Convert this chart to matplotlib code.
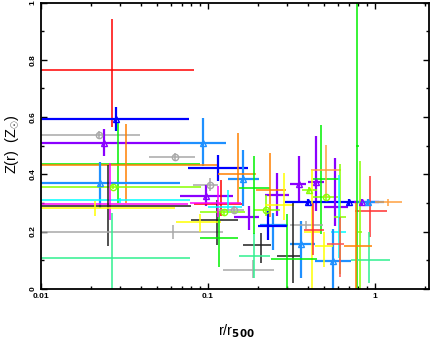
import matplotlib
matplotlib.use('Agg')
import matplotlib.pyplot as plt
import matplotlib.ticker as ticker

plt.rcParams['font.family'] = ['Liberation Sans', 'DejaVu Sans']
plt.rcParams['mathtext.fontset'] = 'custom'
plt.rcParams['mathtext.rm'] = 'Liberation Sans'
plt.rcParams['mathtext.it'] = 'Liberation Sans'

# radius (r/r500): centre, lower, upper
r_mid = [0.0269, 0.0281, 0.0222, 0.0239, 0.0641, 0.0937, 0.0291, 0.0324, 0.115, 0.163,
         0.103, 0.0228, 0.0272, 0.152, 0.0983, 0.030, 0.0260, 0.0254, 0.0211, 0.0621,
         0.0269, 0.121, 0.114, 0.0904, 0.117, 0.126, 0.187, 0.210, 0.190, 0.176,
         0.260, 0.224, 0.245, 0.115, 0.132, 0.190, 0.237, 0.285, 0.351, 0.447,
         0.407, 0.512, 0.400, 0.707, 0.841, 0.908, 1.20, 0.582, 0.942, 0.790,
         0.820, 0.477, 0.512, 0.617, 0.610, 0.363, 0.561, 0.920, 0.621, 0.770,
         0.390, 0.324, 0.420, 0.500, 0.425, 0.144, 0.300, 0.230]
r_lo = [0.005, 0.005, 0.005, 0.005, 0.0443, 0.068, 0.005, 0.005, 0.0762, 0.132,
        0.0815, 0.005, 0.005, 0.115, 0.068, 0.005, 0.005, 0.005, 0.005, 0.005,
        0.005, 0.0834, 0.0799, 0.0645, 0.0898, 0.0904, 0.123, 0.162, 0.154, 0.143,
        0.222, 0.190, 0.205, 0.078, 0.100, 0.155, 0.195, 0.220, 0.310, 0.397,
        0.370, 0.430, 0.290, 0.600, 0.750, 0.800, 1.00, 0.500, 0.760, 0.770,
        0.800, 0.426, 0.415, 0.570, 0.550, 0.310, 0.440, 0.720, 0.520, 0.660,
        0.310, 0.260, 0.380, 0.440, 0.380, 0.115, 0.240, 0.200]
r_hi = [0.0825, 0.0773, 0.0392, 0.068, 0.0838, 0.129, 0.0898, 0.115, 0.174, 0.203,
        0.115, 0.068, 0.0918, 0.195, 0.142, 0.0786, 0.0763, 0.0799, 0.0641, 0.123,
        0.0781, 0.160, 0.151, 0.120, 0.151, 0.167, 0.250, 0.240, 0.236, 0.204,
        0.309, 0.270, 0.302, 0.158, 0.160, 0.235, 0.295, 0.330, 0.390, 0.500,
        0.450, 0.600, 0.600, 0.800, 1.06, 1.14, 1.46, 0.690, 1.19, 0.810,
        0.840, 0.617, 0.630, 0.670, 0.670, 0.440, 0.720, 1.23, 0.660, 0.970,
        0.490, 0.360, 0.470, 0.560, 0.500, 0.165, 0.450, 0.300]

# abundance Z(r) in solar units: centre, lower, upper
z_mid = [0.764, 0.594, 0.539, 0.510, 0.461, 0.510, 0.437, 0.432, 0.422, 0.384,
         0.364, 0.370, 0.356, 0.402, 0.323, 0.309, 0.297, 0.288, 0.281, 0.200,
         0.109, 0.297, 0.239, 0.232, 0.177, 0.267, 0.066, 0.153, 0.115, 0.249,
         0.329, 0.276, 0.221, 0.300, 0.286, 0.352, 0.344, 0.294, 0.366, 0.372,
         0.346, 0.321, 0.302, 0.302, 0.302, 0.302, 0.302, 0.286, 0.270, 0.500,
         0.200, 0.384, 0.414, 0.250, 0.200, 0.157, 0.097, 0.101, 0.156, 0.150,
         0.223, 0.114, 0.200, 0.150, 0.206, 0.276, 0.105, 0.220]
z_lo = [0.567, 0.553, 0.525, 0.463, 0.447, 0.428, 0.300, 0.300, 0.375, 0.288,
        0.340, 0.282, 0.350, 0.300, 0.288, 0.301, 0.240, 0.150, 0.253, 0.173,
        -0.10, 0.253, 0.153, 0.200, 0.077, 0.255, 0.036, 0.089, 0.036, 0.206,
        0.253, 0.253, 0.135, 0.250, 0.265, 0.190, 0.250, 0.240, 0.305, 0.270,
        0.336, 0.310, 0.290, 0.290, 0.290, 0.290, 0.290, 0.218, 0.182, -0.10,
        -0.05, 0.190, 0.320, 0.050, 0.108, 0.036, -0.02, 0.019, 0.042, -0.05,
        0.210, 0.020, -0.02, 0.077, 0.118, 0.262, -0.05, 0.170]
z_hi = [0.943, 0.635, 0.553, 0.557, 0.475, 0.598, 0.580, 0.577, 0.466, 0.484,
        0.388, 0.442, 0.362, 0.543, 0.364, 0.317, 0.440, 0.434, 0.308, 0.223,
        0.265, 0.380, 0.310, 0.262, 0.270, 0.280, 0.101, 0.194, 0.194, 0.288,
        0.405, 0.329, 0.264, 0.360, 0.346, 0.464, 0.475, 0.405, 0.463, 0.533,
        0.356, 0.330, 0.314, 0.314, 0.314, 0.314, 0.314, 0.458, 0.393, 1.10,
        0.446, 0.574, 0.504, 0.435, 0.398, 0.235, 0.208, 0.200, 0.250, 0.300,
        0.236, 0.300, 0.416, 0.200, 0.300, 0.290, 0.260, 0.270]

colors = ['#ff0000', '#0000ff', '#a8a8a8', '#8a00ff', '#a8a8a8', '#1e90ff', '#00f000', '#ff8000', '#0000ff', '#1e90ff',
          '#a8a8a8', '#1e90ff', '#88ff00', '#ff8000', '#8a00ff', '#00ffff', '#ff00ff', '#202020', '#ffff00', '#a8a8a8',
          '#30f090', '#ff0000', '#202020', '#ffff00', '#00f000', '#88ff00', '#a8a8a8', '#202020', '#30f090', '#8a00ff',
          '#8a00ff', '#88ff00', '#1e90ff', '#ff00ff', '#00ffff', '#00f000', '#ff8000', '#ffff00', '#8a00ff', '#8a00ff',
          '#88ff00', '#88ff00', '#0000ff', '#0000ff', '#8a00ff', '#1e90ff', '#ffa040', '#8a00ff', '#ff3030', '#00f000',
          '#88ff00', '#00f000', '#ffa040', '#88ff00', '#00ffff', '#1e90ff', '#1e90ff', '#30f090', '#ff5050', '#ff8000',
          '#a8a8a8', '#202020', '#ffff00', '#ffff00', '#ff3030', '#a8a8a8', '#00f000', '#0000ff']
markers = ['none', '^', 'o', '^', 'o', '^', 'none', 'none', 'none', '^',
           'o', '^', 'o', 'none', '^', 'none', 'none', 'none', 'none', 'none',
           'none', 'none', 'none', 'none', 'none', 'o', 'none', 'none', 'none', 'none',
           'none', 'o', 'none', 'none', 'none', 'none', 'none', 'none', '^', '^',
           '^', 'o', '^', '^', '^', '^', 'none', 'none', 'none', 'none',
           'none', 'none', 'none', 'none', 'none', '^', '^', 'none', 'none', 'none',
           'none', 'none', 'none', 'none', 'none', 'o', 'none', 'none']

thick = ['#0000ff', '#8a00ff', '#1e90ff']

fig = plt.figure(figsize=(4.30, 3.39), dpi=100)
ax = fig.add_axes([40.7 / 430, 1 - 288.7 / 339, 388.0 / 430, 286.0 / 339])

for i in range(len(r_mid)):
    lw = 1.6 if colors[i] in thick else 1.1
    ax.errorbar(r_mid[i], z_mid[i],
                xerr=[[r_mid[i] - r_lo[i]], [r_hi[i] - r_mid[i]]],
                yerr=[[z_mid[i] - z_lo[i]], [z_hi[i] - z_mid[i]]],
                fmt=markers[i], color=colors[i], ecolor=colors[i], elinewidth=lw,
                capsize=0, markersize=4.5, markerfacecolor='none',
                markeredgecolor=colors[i], markeredgewidth=1.0)

ax.set_xscale('log')
ax.set_xlim(0.01, 2.11)
ax.set_ylim(0, 1)

ax.xaxis.set_major_locator(ticker.FixedLocator([0.01, 0.1, 1]))
ax.xaxis.set_major_formatter(ticker.FixedFormatter(['0.01', '0.1', '1']))
ax.xaxis.set_minor_locator(ticker.LogLocator(base=10, subs=range(2, 10)))
ax.xaxis.set_minor_formatter(ticker.NullFormatter())
ax.yaxis.set_major_locator(ticker.MultipleLocator(0.2))
ax.yaxis.set_minor_locator(ticker.MultipleLocator(0.1))
ax.yaxis.set_major_formatter(ticker.FuncFormatter(lambda v, p: '%g' % round(v, 1)))

ax.tick_params(which='both', direction='in', top=True, right=True, width=1.0)
ax.tick_params(which='major', length=4, labelsize=6, pad=3)
ax.tick_params(which='minor', length=2)
for lab in ax.get_xticklabels() + ax.get_yticklabels():
    lab.set_fontweight('bold')
for lab in ax.get_yticklabels():
    lab.set_rotation(90)
    lab.set_va('center')
for s in ax.spines.values():
    s.set_linewidth(1.3)

fig.text(12 / 430, 1 - 144 / 339, r'Z(r)  (Z$_{\odot}$)', rotation=90,
         ha='center', va='center', fontsize=10.5)
fig.text(236 / 430, 1 - 331 / 339, r'r/r$_{\mathbf{500}}$', ha='center',
         va='center', fontsize=10.5)

fig.savefig('out.png', dpi=100)
